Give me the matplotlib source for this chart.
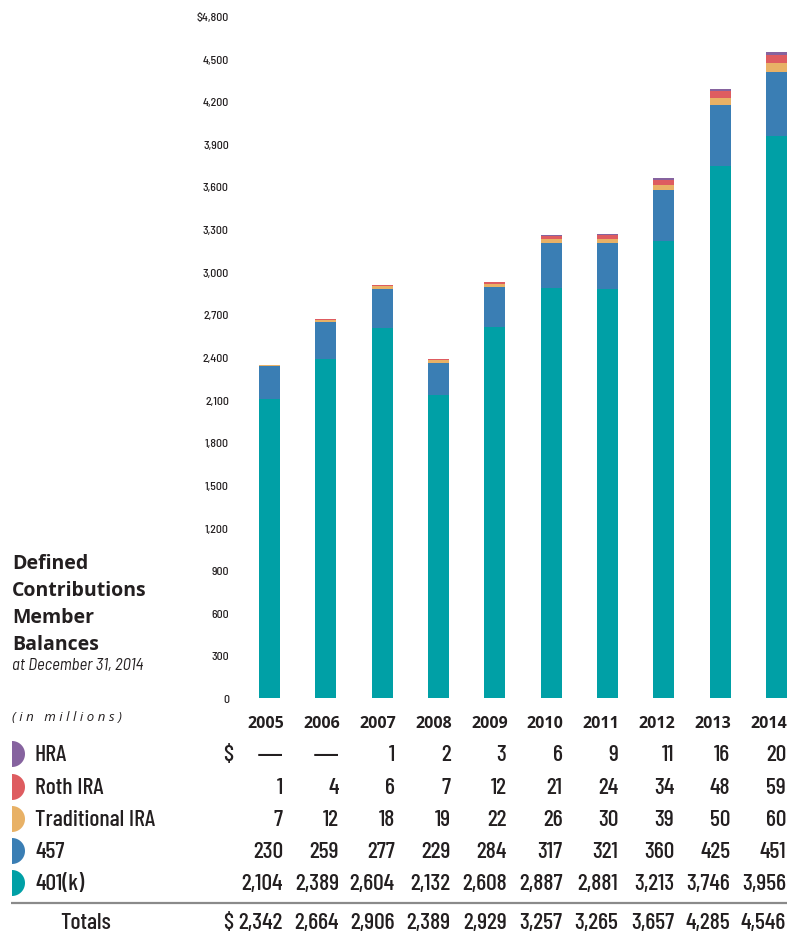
import numpy as np
import matplotlib
matplotlib.use("Agg")
import matplotlib.pyplot as plt
from matplotlib import font_manager
from matplotlib.patches import Polygon

# data (in millions)
years = ["2005", "2006", "2007", "2008", "2009", "2010", "2011", "2012", "2013", "2014"]
k401 = [2104, 2389, 2604, 2132, 2608, 2887, 2881, 3213, 3746, 3956]
p457 = [230, 259, 277, 229, 284, 317, 321, 360, 425, 451]
trad_ira = [7, 12, 18, 19, 22, 26, 30, 39, 50, 60]
roth_ira = [1, 4, 6, 7, 12, 21, 24, 34, 48, 59]
hra = [0, 0, 1, 2, 3, 6, 9, 11, 16, 20]
totals = [2342, 2664, 2906, 2389, 2929, 3257, 3265, 3657, 4285, 4546]

series_names = ["HRA", "Roth IRA", "Traditional IRA", "457", "401(k)"]
series_vals = [hra, roth_ira, trad_ira, p457, k401]
colors = ["#86639f", "#de5c60", "#e8b166", "#3a7eb4", "#00a0a6"]


def pick(*cands):
    names = {f.name for f in font_manager.fontManager.ttflist}
    for c in cands:
        if c in names:
            return c
    return "DejaVu Sans"


narrow = pick("Barlow Condensed", "Asap Condensed", "Liberation Sans Narrow")
semi = pick("Barlow Semi Condensed", "Asap Condensed", "Liberation Sans Narrow")
bold_font = pick("Open Sans", "Lato")
stretch = "normal" if narrow != "DejaVu Sans" else "condensed"
ink = "#231f20"

W, H = 796, 945
fig = plt.figure(figsize=(W / 100, H / 100), dpi=100)

# bar axes: x=0 at px 269.5, x=9 at px 776.5 ; y=0 at px 699, 4800 at px 17
ax = fig.add_axes([240 / W, 1 - 699 / H, 556 / W, 682 / H])
x = np.arange(len(years))
bottom = np.zeros(len(years))
for vals, c in zip(series_vals[::-1], colors[::-1]):
    ax.bar(x, vals, width=0.373, bottom=bottom, color=c, linewidth=0)
    bottom += np.array(vals)
ax.set_xlim(-29.5 / 56.33, 9 + 19.5 / 56.33)
ax.set_ylim(0, 4800)
yt = np.arange(0, 4801, 300)
ax.set_yticks(yt)
ax.set_yticklabels([("$" if v == 4800 else "") + f"{v:,}" for v in yt],
                   fontsize=8.5, family=semi, fontstretch=stretch,
                   fontweight=500, color=ink)
ax.tick_params(axis="y", length=0, pad=8)
ax.set_xticks([])
for s in ax.spines.values():
    s.set_visible(False)

# overlay in pixel coordinates for the table and titles
ov = fig.add_axes([0, 0, 1, 1])
ov.set_xlim(0, W)
ov.set_ylim(H, 0)
ov.axis("off")

# title block
for i, line in enumerate(["Defined", "Contributions", "Member", "Balances"]):
    ov.text(12, 569 + i * 27, line, fontsize=14, fontweight="bold",
            family=bold_font, color=ink, va="baseline")
ov.text(12, 670, "at December 31, 2014", fontsize=12, style="italic",
        family=semi, fontstretch=stretch, color=ink, va="baseline")
ov.text(12, 721, "( i n   m i l l i o n s )", fontsize=9.5, style="italic",
        family=bold_font, color=ink, va="baseline")

# table
col_x = [283 + i * 55.9 for i in range(len(years))]
for cx, yr in zip(col_x, years):
    ov.text(cx + 1, 724, yr, fontsize=11.5, fontweight="bold", family=bold_font,
            color=ink, ha="right", va="center")

row_y = [755, 788, 820, 852, 884]
tfont = dict(fontsize=17, family=narrow, fontstretch=stretch, fontweight=500,
             color=ink, va="center")
t = np.linspace(-np.pi / 2, np.pi / 2, 40)
for ry, name, vals, c in zip(row_y, series_names, series_vals, colors):
    pts = np.column_stack([12 + 13 * np.cos(t), ry + 13 * np.sin(t)])
    ov.add_patch(Polygon(pts, closed=True, facecolor=c, edgecolor="none"))
    ov.text(35, ry, name, ha="left", **tfont)
    for cx, v in zip(col_x, vals):
        if v == 0:
            ov.text(cx, ry, "—", ha="right", va="center", fontsize=19,
                    family="DejaVu Sans", color=ink)
        else:
            ov.text(cx, ry, f"{v:,}", ha="right", **tfont)
ov.text(223, row_y[0], "$", ha="left", **tfont)

ov.plot([11, 787], [903.5, 903.5], color="#8a8a8a", linewidth=1.6,
        solid_capstyle="butt")
ov.text(60, 923, "Totals", ha="left", **tfont)
ov.text(223, 923, "$", ha="left", **tfont)
for cx, v in zip(col_x, totals):
    ov.text(cx, 923, f"{v:,}", ha="right", **tfont)

fig.savefig("out.png", dpi=100)
